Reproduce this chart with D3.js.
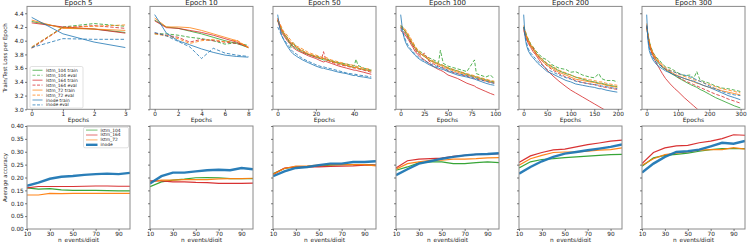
<!DOCTYPE html>
<html>
<head>
<meta charset="utf-8">
<script src="https://cdnjs.cloudflare.com/ajax/libs/d3/7.8.5/d3.min.js"></script>
<style>
  body { margin: 0; background: #fff; }
  svg { font-family: "DejaVu Sans", sans-serif; display: block; }
</style>
</head>
<body>
<div id="root"></div>
<script>
// ---- data ----
var panelTitles = ["Epoch 5", "Epoch 10", "Epoch 50", "Epoch 100", "Epoch 200", "Epoch 300"];
var epochTicks = [[0, 1, 2, 3], [0, 2, 4, 6, 8], [0, 20, 40], [0, 25, 50, 75, 100], [0, 50, 100, 150, 200], [0, 100, 200, 300]];
var epochMax = [3, 8, 49, 99, 199, 299];
var lossTicks = [3.0, 3.2, 3.4, 3.6, 3.8, 4.0, 4.2, 4.4];
var accTicks = [0, 0.05, 0.10, 0.15, 0.20, 0.25, 0.30, 0.35, 0.40];
var nEvents = [10, 20, 30, 40, 50, 60, 70, 80, 90, 100];
var nEventsTicks = [10, 30, 50, 70, 90];

var models = ["lstm_104", "lstm_164", "lstm_72", "inode"];
var modelColors = ["#2ca02c", "#d62728", "#ff7f0e", "#1f77b4"];

// epoch 5
var x5 = [0, 1, 2, 3];
var e5_lstm104_train = [4.28, 4.19, 4.17, 4.12];
var e5_lstm104_eval = [3.90, 4.20, 4.25, 4.21];
var e5_lstm164_train = [4.26, 4.20, 4.17, 4.11];
var e5_lstm164_eval = [3.89, 4.19, 4.22, 4.18];
var e5_lstm72_train = [4.30, 4.18, 4.17, 4.15];
var e5_lstm72_eval = [3.91, 4.19, 4.21, 4.23];
var e5_inode_train = [4.34, 4.10, 3.98, 3.90];
var e5_inode_eval = [3.90, 4.03, 4.02, 4.02];

// epoch 10
var x10 = [0, 1, 2, 3, 4, 5, 6, 7, 8];
var e10_lstm104_train = [4.30, 4.20, 4.18, 4.14, 4.10, 4.05, 4.00, 3.96, 3.90];
var e10_lstm104_eval = [4.10, 4.10, 4.08, 4.05, 4.03, 4.00, 3.95, 3.97, 3.93];
var e10_lstm164_train = [4.29, 4.19, 4.18, 4.15, 4.12, 4.08, 4.03, 3.98, 3.90];
var e10_lstm164_eval = [4.11, 4.08, 4.05, 3.98, 4.02, 4.00, 3.98, 3.96, 3.92];
var e10_lstm72_train = [4.33, 4.20, 4.20, 4.19, 4.15, 4.10, 4.05, 4.00, 3.90];
var e10_lstm72_eval = [4.10, 4.07, 4.03, 3.96, 4.00, 4.02, 3.98, 4.01, 3.90];
var e10_inode_train = [4.38, 4.11, 4.00, 3.94, 3.88, 3.83, 3.79, 3.77, 3.76];
var e10_inode_eval = [4.12, 4.07, 3.99, 3.91, 3.74, 3.89, 3.82, 3.79, 3.77];

// epoch 50
var x50 = [0, 1, 2, 3, 5, 7, 8, 10, 13, 16, 20, 23, 24, 25, 28, 32, 36, 40, 41, 42, 45, 49];
var e50_lstm104_train = [4.30, 4.22, 4.15, 4.10, 4.02, 3.95, 3.92, 3.88, 3.83, 3.80, 3.76, 3.73, 3.72, 3.72, 3.70, 3.67, 3.64, 3.61, 3.62, 3.60, 3.58, 3.56];
var e50_lstm104_eval = [4.28, 4.24, 4.18, 4.12, 4.05, 3.90, 3.98, 3.90, 3.86, 3.80, 3.78, 3.75, 3.74, 3.74, 3.71, 3.68, 3.66, 3.63, 3.73, 3.64, 3.60, 3.57];
var e50_lstm164_train = [4.30, 4.20, 4.12, 4.08, 4.00, 3.94, 3.90, 3.86, 3.82, 3.78, 3.74, 3.70, 3.69, 3.70, 3.67, 3.63, 3.60, 3.57, 3.57, 3.56, 3.54, 3.51];
var e50_lstm164_eval = [4.32, 4.25, 4.17, 4.12, 4.04, 3.97, 3.94, 3.90, 3.84, 3.80, 3.76, 3.74, 3.84, 3.73, 3.69, 3.65, 3.63, 3.60, 3.60, 3.59, 3.57, 3.54];
var e50_lstm72_train = [4.33, 4.24, 4.16, 4.12, 4.04, 3.97, 3.95, 3.90, 3.85, 3.81, 3.77, 3.74, 3.74, 3.73, 3.70, 3.67, 3.64, 3.61, 3.61, 3.60, 3.58, 3.56];
var e50_lstm72_eval = [4.30, 4.26, 4.20, 4.14, 4.08, 4.00, 3.97, 3.92, 3.88, 3.83, 3.79, 3.76, 3.75, 3.76, 3.72, 3.69, 3.66, 3.64, 3.63, 3.62, 3.60, 3.58];
var e50_inode_train = [4.38, 4.20, 4.08, 4.02, 3.92, 3.84, 3.81, 3.77, 3.72, 3.68, 3.63, 3.60, 3.60, 3.59, 3.57, 3.54, 3.52, 3.49, 3.50, 3.48, 3.47, 3.45];
var e50_inode_eval = [4.20, 4.14, 4.08, 4.03, 3.95, 3.87, 3.84, 3.80, 3.74, 3.70, 3.65, 3.62, 3.62, 3.61, 3.59, 3.56, 3.53, 3.51, 3.51, 3.50, 3.49, 3.47];

// epoch 100
var x100 = [0, 2, 4, 6, 8, 10, 13, 15, 18, 22, 25, 30, 35, 40, 42, 45, 50, 60, 70, 78, 80, 90, 95, 99];
var e100_lstm104_train = [4.22, 4.18, 4.15, 4.10, 4.05, 4.00, 3.93, 3.89, 3.84, 3.80, 3.77, 3.72, 3.69, 3.66, 3.65, 3.64, 3.60, 3.56, 3.51, 3.48, 3.47, 3.43, 3.41, 3.40];
var e100_lstm104_eval = [4.20, 4.20, 4.15, 4.12, 4.07, 4.02, 3.96, 3.92, 3.86, 3.83, 3.79, 3.75, 3.72, 3.68, 3.86, 3.67, 3.63, 3.59, 3.55, 3.72, 3.52, 3.47, 3.50, 3.44];
var e100_lstm164_train = [4.15, 4.12, 4.10, 4.06, 4.02, 3.97, 3.90, 3.85, 3.80, 3.75, 3.72, 3.67, 3.62, 3.58, 3.57, 3.55, 3.50, 3.45, 3.38, 3.34, 3.32, 3.26, 3.23, 3.21];
var e100_lstm164_eval = [4.20, 4.15, 4.12, 4.08, 4.04, 4.00, 3.93, 3.88, 3.82, 3.78, 3.82, 3.70, 3.66, 3.63, 3.62, 3.60, 3.56, 3.52, 3.48, 3.45, 3.44, 3.41, 3.39, 3.38];
var e100_lstm72_train = [4.20, 4.18, 4.16, 4.12, 4.08, 4.02, 3.95, 3.90, 3.85, 3.80, 3.77, 3.72, 3.68, 3.65, 3.64, 3.62, 3.59, 3.54, 3.50, 3.47, 3.46, 3.42, 3.40, 3.39];
var e100_lstm72_eval = [4.23, 4.20, 4.18, 4.14, 4.10, 4.05, 3.98, 3.92, 3.87, 3.82, 3.79, 3.74, 3.70, 3.67, 3.66, 3.64, 3.61, 3.56, 3.52, 3.49, 3.48, 3.44, 3.42, 3.41];
var e100_inode_train = [4.38, 4.15, 4.02, 3.95, 3.90, 3.87, 3.82, 3.79, 3.75, 3.71, 3.69, 3.65, 3.62, 3.60, 3.59, 3.58, 3.55, 3.50, 3.47, 3.44, 3.43, 3.38, 3.36, 3.35];
var e100_inode_eval = [4.18, 4.12, 4.05, 3.98, 3.93, 3.89, 3.84, 3.81, 3.77, 3.73, 3.71, 3.67, 3.64, 3.62, 3.61, 3.60, 3.57, 3.52, 3.49, 3.46, 3.45, 3.41, 3.39, 3.38];

// epoch 200
var x200 = [0, 3, 6, 10, 15, 20, 25, 30, 40, 50, 60, 75, 90, 100, 110, 125, 140, 150, 160, 165, 175, 190, 199];
var e200_lstm104_train = [4.20, 4.12, 4.06, 4.00, 3.93, 3.88, 3.83, 3.79, 3.72, 3.66, 3.62, 3.56, 3.52, 3.50, 3.47, 3.44, 3.41, 3.40, 3.38, 3.38, 3.36, 3.34, 3.33];
var e200_lstm104_eval = [4.20, 4.15, 4.08, 4.02, 3.95, 3.91, 3.86, 3.82, 3.75, 3.72, 3.65, 3.60, 3.58, 3.54, 3.55, 3.50, 3.47, 3.46, 3.52, 3.45, 3.42, 3.42, 3.40];
var e200_lstm164_train = [4.15, 4.08, 4.02, 3.96, 3.90, 3.84, 3.80, 3.75, 3.65, 3.57, 3.50, 3.41, 3.33, 3.28, 3.24, 3.18, 3.12, 3.08, 3.04, 3.02, 2.98, 2.93, 2.90];
var e200_lstm164_eval = [4.18, 4.10, 4.04, 3.98, 3.92, 3.90, 3.82, 3.78, 3.70, 3.63, 3.58, 3.52, 3.47, 3.45, 3.42, 3.39, 3.37, 3.36, 3.34, 3.33, 3.32, 3.30, 3.29];
var e200_lstm72_train = [4.20, 4.12, 4.05, 3.99, 3.92, 3.87, 3.82, 3.77, 3.70, 3.64, 3.60, 3.54, 3.50, 3.47, 3.44, 3.42, 3.40, 3.39, 3.37, 3.37, 3.35, 3.33, 3.32];
var e200_lstm72_eval = [4.22, 4.15, 4.08, 4.02, 3.95, 3.90, 3.85, 3.80, 3.73, 3.67, 3.63, 3.57, 3.53, 3.50, 3.47, 3.45, 3.43, 3.42, 3.40, 3.40, 3.38, 3.36, 3.35];
var e200_inode_train = [4.38, 4.05, 3.93, 3.85, 3.79, 3.75, 3.71, 3.67, 3.61, 3.55, 3.52, 3.47, 3.42, 3.40, 3.37, 3.35, 3.33, 3.32, 3.30, 3.30, 3.28, 3.26, 3.25];
var e200_inode_eval = [4.20, 4.08, 3.97, 3.88, 3.82, 3.78, 3.74, 3.70, 3.64, 3.58, 3.55, 3.50, 3.46, 3.44, 3.41, 3.39, 3.37, 3.36, 3.35, 3.34, 3.33, 3.31, 3.30];

// epoch 300
var x300 = [0, 4, 8, 12, 16, 20, 30, 40, 50, 60, 75, 90, 100, 120, 140, 150, 160, 170, 180, 200, 220, 240, 260, 280, 299];
var e300_lstm104_train = [4.20, 4.08, 3.97, 3.90, 3.84, 3.80, 3.72, 3.66, 3.61, 3.58, 3.53, 3.49, 3.46, 3.41, 3.36, 3.34, 3.32, 3.29, 3.27, 3.22, 3.17, 3.13, 3.09, 3.05, 3.02];
var e300_lstm104_eval = [4.20, 4.10, 4.00, 3.93, 3.88, 3.83, 3.76, 3.72, 3.66, 3.62, 3.60, 3.56, 3.53, 3.49, 3.50, 3.45, 3.55, 3.43, 3.41, 3.38, 3.34, 3.31, 3.30, 3.28, 3.26];
var e300_lstm164_train = [4.20, 4.06, 3.95, 3.88, 3.82, 3.78, 3.68, 3.60, 3.52, 3.45, 3.37, 3.30, 3.26, 3.17, 3.09, 3.05, 3.01, 2.97, 2.93, 2.86, 2.80, 2.74, 2.68, 2.62, 2.57];
var e300_lstm164_eval = [4.22, 4.08, 3.98, 3.90, 3.85, 3.82, 3.74, 3.68, 3.62, 3.58, 3.54, 3.50, 3.47, 3.42, 3.38, 3.36, 3.34, 3.32, 3.30, 3.26, 3.22, 3.19, 3.15, 3.12, 3.09];
var e300_lstm72_train = [4.22, 4.08, 3.98, 3.90, 3.85, 3.80, 3.73, 3.68, 3.63, 3.59, 3.55, 3.51, 3.49, 3.45, 3.42, 3.40, 3.38, 3.37, 3.35, 3.32, 3.30, 3.27, 3.25, 3.23, 3.21];
var e300_lstm72_eval = [4.25, 4.10, 4.00, 3.93, 3.87, 3.83, 3.75, 3.70, 3.65, 3.61, 3.57, 3.54, 3.52, 3.48, 3.45, 3.43, 3.42, 3.41, 3.39, 3.36, 3.33, 3.30, 3.28, 3.26, 3.24];
var e300_inode_train = [4.38, 4.00, 3.86, 3.80, 3.76, 3.72, 3.66, 3.62, 3.59, 3.56, 3.53, 3.50, 3.48, 3.45, 3.42, 3.41, 3.39, 3.37, 3.35, 3.32, 3.28, 3.24, 3.20, 3.17, 3.14];
var e300_inode_eval = [4.22, 4.05, 3.90, 3.83, 3.79, 3.75, 3.69, 3.65, 3.62, 3.59, 3.56, 3.54, 3.52, 3.50, 3.47, 3.45, 3.43, 3.41, 3.39, 3.34, 3.30, 3.26, 3.23, 3.21, 3.20];

// accuracy vs n_events/digit (bottom row), one array per model per panel
var acc5_lstm104 = [0.160, 0.155, 0.157, 0.152, 0.150, 0.150, 0.150, 0.149, 0.148, 0.148];
var acc5_lstm164 = [0.160, 0.165, 0.165, 0.165, 0.165, 0.166, 0.167, 0.167, 0.166, 0.166];
var acc5_lstm72 = [0.132, 0.132, 0.138, 0.137, 0.138, 0.138, 0.138, 0.138, 0.138, 0.138];
var acc5_inode = [0.168, 0.180, 0.195, 0.203, 0.206, 0.210, 0.213, 0.215, 0.213, 0.218];

var acc10_lstm104 = [0.164, 0.183, 0.190, 0.194, 0.199, 0.200, 0.199, 0.196, 0.196, 0.196];
var acc10_lstm164 = [0.187, 0.187, 0.183, 0.183, 0.181, 0.180, 0.177, 0.177, 0.177, 0.178];
var acc10_lstm72 = [0.183, 0.190, 0.190, 0.192, 0.192, 0.192, 0.195, 0.196, 0.196, 0.197];
var acc10_inode = [0.177, 0.205, 0.219, 0.219, 0.224, 0.228, 0.230, 0.228, 0.237, 0.232];

var acc50_lstm104 = [0.215, 0.235, 0.241, 0.241, 0.244, 0.248, 0.250, 0.250, 0.250, 0.248];
var acc50_lstm164 = [0.212, 0.237, 0.241, 0.241, 0.241, 0.243, 0.244, 0.245, 0.248, 0.248];
var acc50_lstm72 = [0.212, 0.235, 0.244, 0.245, 0.248, 0.250, 0.250, 0.250, 0.250, 0.245];
var acc50_inode = [0.205, 0.224, 0.237, 0.241, 0.248, 0.254, 0.254, 0.260, 0.260, 0.263];

var acc100_lstm104 = [0.228, 0.241, 0.257, 0.261, 0.261, 0.254, 0.254, 0.258, 0.261, 0.258];
var acc100_lstm164 = [0.237, 0.265, 0.271, 0.273, 0.275, 0.282, 0.286, 0.290, 0.291, 0.293];
var acc100_lstm72 = [0.232, 0.254, 0.261, 0.267, 0.267, 0.271, 0.271, 0.273, 0.276, 0.277];
var acc100_inode = [0.209, 0.232, 0.254, 0.263, 0.273, 0.280, 0.286, 0.290, 0.291, 0.294];

var acc200_lstm104 = [0.237, 0.261, 0.270, 0.273, 0.277, 0.280, 0.283, 0.286, 0.289, 0.290];
var acc200_lstm164 = [0.258, 0.284, 0.297, 0.307, 0.310, 0.319, 0.328, 0.334, 0.341, 0.345];
var acc200_lstm72 = [0.248, 0.273, 0.286, 0.297, 0.299, 0.299, 0.302, 0.306, 0.308, 0.315];
var acc200_inode = [0.215, 0.241, 0.263, 0.280, 0.293, 0.299, 0.306, 0.312, 0.319, 0.328];

var acc300_lstm104 = [0.244, 0.276, 0.286, 0.290, 0.295, 0.302, 0.308, 0.312, 0.312, 0.312];
var acc300_lstm164 = [0.254, 0.297, 0.315, 0.323, 0.325, 0.335, 0.341, 0.351, 0.366, 0.364];
var acc300_lstm72 = [0.248, 0.273, 0.289, 0.295, 0.299, 0.306, 0.308, 0.308, 0.316, 0.310];
var acc300_inode = [0.219, 0.254, 0.280, 0.299, 0.302, 0.308, 0.321, 0.335, 0.331, 0.342];

// ---- assemble per panel ----
var epochXs = [x5, x10, x50, x100, x200, x300];
var lossPanels = [
  [e5_lstm104_train, e5_lstm104_eval, e5_lstm164_train, e5_lstm164_eval, e5_lstm72_train, e5_lstm72_eval, e5_inode_train, e5_inode_eval],
  [e10_lstm104_train, e10_lstm104_eval, e10_lstm164_train, e10_lstm164_eval, e10_lstm72_train, e10_lstm72_eval, e10_inode_train, e10_inode_eval],
  [e50_lstm104_train, e50_lstm104_eval, e50_lstm164_train, e50_lstm164_eval, e50_lstm72_train, e50_lstm72_eval, e50_inode_train, e50_inode_eval],
  [e100_lstm104_train, e100_lstm104_eval, e100_lstm164_train, e100_lstm164_eval, e100_lstm72_train, e100_lstm72_eval, e100_inode_train, e100_inode_eval],
  [e200_lstm104_train, e200_lstm104_eval, e200_lstm164_train, e200_lstm164_eval, e200_lstm72_train, e200_lstm72_eval, e200_inode_train, e200_inode_eval],
  [e300_lstm104_train, e300_lstm104_eval, e300_lstm164_train, e300_lstm164_eval, e300_lstm72_train, e300_lstm72_eval, e300_inode_train, e300_inode_eval]
];
var accPanels = [
  [acc5_lstm104, acc5_lstm164, acc5_lstm72, acc5_inode],
  [acc10_lstm104, acc10_lstm164, acc10_lstm72, acc10_inode],
  [acc50_lstm104, acc50_lstm164, acc50_lstm72, acc50_inode],
  [acc100_lstm104, acc100_lstm164, acc100_lstm72, acc100_inode],
  [acc200_lstm104, acc200_lstm164, acc200_lstm72, acc200_inode],
  [acc300_lstm104, acc300_lstm164, acc300_lstm72, acc300_inode]
];

// ---- layout ----
var w = 748, h = 242;
var panelLeft = 27, panelStep = 123, panelW = 103;
var topRow = { top: 6.4, bottom: 109.3 };
var botRow = { top: 126, bottom: 229 };
var frameColor = "#8a8a8a";

var svg = d3.select("#root").append("svg").attr("width", w).attr("height", h);
svg.append("rect").attr("width", w).attr("height", h).attr("fill", "white");
var defs = svg.append("defs");

function styleAxis(g) {
  g.select(".domain").remove();
  g.selectAll(".tick line").attr("stroke", "#444").attr("stroke-width", 0.7);
  g.selectAll(".tick text").attr("fill", "#222").style("font-size", "5.8px").style("font-family", "DejaVu Sans");
}

var yLoss = d3.scaleLinear().domain([3.0, 4.5]).range([topRow.bottom, topRow.top]);
var yAcc = d3.scaleLinear().domain([0, 0.4]).range([botRow.bottom, botRow.top]);

panelTitles.forEach(function(title, i) {
  var x0 = panelLeft + panelStep * i;
  var m = epochMax[i];
  var xScale = d3.scaleLinear().domain([-0.05 * m, m * 1.05]).range([x0, x0 + panelW]);

  // clip for both rows
  defs.append("clipPath").attr("id", "clipT" + i).append("rect")
    .attr("x", x0).attr("y", topRow.top).attr("width", panelW).attr("height", topRow.bottom - topRow.top);
  defs.append("clipPath").attr("id", "clipB" + i).append("rect")
    .attr("x", x0).attr("y", botRow.top).attr("width", panelW).attr("height", botRow.bottom - botRow.top);

  // top: loss curves
  var gT = svg.append("g").attr("clip-path", "url(#clipT" + i + ")");
  var xs = epochXs[i];
  lossPanels[i].forEach(function(series, s) {
    var model = Math.floor(s / 2);
    var isEval = s % 2 === 1;
    var line = d3.line().x(function(d, k) { return xScale(xs[k]); }).y(function(d) { return yLoss(d); });
    gT.append("path").datum(series).attr("d", line)
      .attr("fill", "none").attr("stroke", modelColors[model])
      .attr("stroke-width", 1).attr("stroke-opacity", 0.8)
      .attr("stroke-dasharray", isEval ? "3.5,1.8" : null);
  });

  svg.append("rect").attr("x", x0).attr("y", topRow.top).attr("width", panelW).attr("height", topRow.bottom - topRow.top)
    .attr("fill", "none").attr("stroke", frameColor).attr("stroke-width", 1);

  svg.append("g").attr("transform", "translate(0," + topRow.bottom + ")")
    .call(d3.axisBottom(xScale).tickValues(epochTicks[i]).tickFormat(d3.format("d")).tickSize(2).tickPadding(1))
    .call(styleAxis);
  svg.append("g").attr("transform", "translate(" + x0 + ",0)")
    .call(d3.axisLeft(yLoss).tickValues(lossTicks).tickFormat(i === 0 ? d3.format(".1f") : "").tickSize(2).tickPadding(1.2))
    .call(styleAxis);

  svg.append("text").attr("x", x0 + panelW / 2).attr("y", 5.3).attr("text-anchor", "middle")
    .style("font-size", "7px").attr("fill", "#222").text(title);
  svg.append("text").attr("x", x0 + panelW / 2).attr("y", 122.3).attr("text-anchor", "middle")
    .style("font-size", "6px").attr("fill", "#222").text("Epochs");

  // bottom: accuracy curves
  var xAcc = d3.scaleLinear().domain([10, 100]).range([x0, x0 + panelW]);
  var gB = svg.append("g").attr("clip-path", "url(#clipB" + i + ")");
  accPanels[i].forEach(function(series, s) {
    var line = d3.line().x(function(d, k) { return xAcc(nEvents[k]); }).y(function(d) { return yAcc(d); });
    gB.append("path").datum(series).attr("d", line)
      .attr("fill", "none").attr("stroke", modelColors[s])
      .attr("stroke-width", s === 3 ? 2.4 : 1.2).attr("stroke-opacity", 0.95);
  });

  svg.append("rect").attr("x", x0).attr("y", botRow.top).attr("width", panelW).attr("height", botRow.bottom - botRow.top)
    .attr("fill", "none").attr("stroke", frameColor).attr("stroke-width", 1);

  svg.append("g").attr("transform", "translate(0," + botRow.bottom + ")")
    .call(d3.axisBottom(xAcc).tickValues(nEventsTicks).tickFormat(d3.format("d")).tickSize(2).tickPadding(0.8))
    .call(styleAxis);
  svg.append("g").attr("transform", "translate(" + x0 + ",0)")
    .call(d3.axisLeft(yAcc).tickValues(accTicks).tickFormat(i === 0 ? d3.format(".2f") : "").tickSize(2).tickPadding(1.2))
    .call(styleAxis);

  svg.append("text").attr("x", x0 + panelW / 2).attr("y", 241.6).attr("text-anchor", "middle")
    .style("font-size", "5.8px").attr("fill", "#222").text("n_events/digit");
});

// y axis labels
svg.append("text").attr("transform", "translate(7," + ((topRow.top + topRow.bottom) / 2) + ") rotate(-90)")
  .attr("text-anchor", "middle").style("font-size", "5.5px").attr("fill", "#222").text("Train/Test Loss per Epoch");
svg.append("text").attr("transform", "translate(7," + ((botRow.top + botRow.bottom) / 2) + ") rotate(-90)")
  .attr("text-anchor", "middle").style("font-size", "5.5px").attr("fill", "#222").text("Average accuracy");

// legend in first loss panel
var legendLabels = [];
models.forEach(function(m) { legendLabels.push(m + " train"); legendLabels.push(m + " eval"); });
var lg = svg.append("g").attr("transform", "translate(30,66.5)");
lg.append("rect").attr("width", 53).attr("height", 41.5).attr("rx", 1.5)
  .attr("fill", "white").attr("fill-opacity", 0.85).attr("stroke", "#ccc").attr("stroke-width", 0.6);
legendLabels.forEach(function(lab, k) {
  var yy = 3.8 + k * 4.95;
  lg.append("line").attr("x1", 2.5).attr("x2", 12.5).attr("y1", yy).attr("y2", yy)
    .attr("stroke", modelColors[Math.floor(k / 2)]).attr("stroke-width", 1.2).attr("stroke-opacity", 0.6)
    .attr("stroke-dasharray", k % 2 === 1 ? "3,1.5" : null);
  lg.append("text").attr("x", 16).attr("y", yy + 1.5).style("font-size", "4.4px").attr("fill", "#222").text(lab);
});

// legend in first accuracy panel
var lb = svg.append("g").attr("transform", "translate(83.5,127.3)");
lb.append("rect").attr("width", 45).attr("height", 20.5).attr("rx", 1.5)
  .attr("fill", "white").attr("fill-opacity", 0.85).attr("stroke", "#ccc").attr("stroke-width", 0.6);
models.forEach(function(m, k) {
  var yy = 2.8 + k * 4.9;
  lb.append("line").attr("x1", 2.5).attr("x2", 14).attr("y1", yy).attr("y2", yy)
    .attr("stroke", modelColors[k]).attr("stroke-width", k === 3 ? 2.4 : 1.2).attr("stroke-opacity", k === 3 ? 0.95 : 0.55);
  lb.append("text").attr("x", 17).attr("y", yy + 1.5).style("font-size", "4.4px").attr("fill", "#222").text(m);
});
</script>
</body>
</html>
